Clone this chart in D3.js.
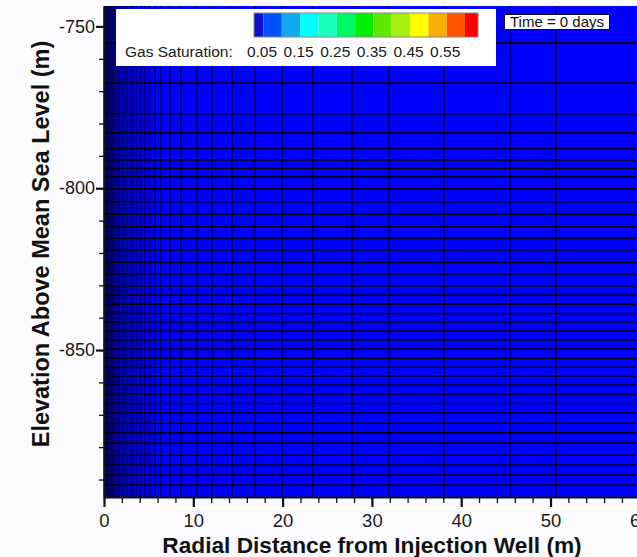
<!DOCTYPE html>
<html>
<head>
<meta charset="utf-8">
<script src="https://cdn.jsdelivr.net/npm/d3@7/dist/d3.min.js"></script>
<style>
  body { margin: 0; background: #fcfcfe; }
  text { font-family: "Liberation Sans", Arial, sans-serif; }
</style>
</head>
<body>
<div id="wrapper"></div>
<script>
// grid cell edges (metres)
const radialEdges = [0, 0.05, 0.1, 0.15, 0.2, 0.25, 0.3, 0.35, 0.4, 0.5, 0.6, 0.7, 0.8, 0.9, 1.0, 1.15,
    1.42, 1.68, 1.98, 2.27, 2.61, 2.99, 3.28, 3.66, 4.11, 4.59, 5.07, 5.71, 6.38, 7.39, 8.62,
    10.41, 12.09, 14.33, 16.91, 19.93, 23.4, 27.8, 31.9, 38.1, 45.5, 50.6, 60];
const elevationEdges = [-743.7, -755.1, -767.5, -777.0, -782.9, -787.8, -791.3, -793.9, -796.5, -800.2,
    -804.2, -808.0, -811.9, -815.5, -819.1, -822.9, -826.5, -830.2, -833.0, -835.8, -838.7,
    -841.3, -844.1, -846.9, -849.7, -852.5, -855.3, -858.0, -860.8, -863.6, -866.5, -869.5,
    -872.6, -875.6, -878.7, -882.5, -885.5, -888.6, -891.7, -895.4];
const gasSaturation = 0; // every cell at t = 0
const cellColor = "#0000ff";

const xTicks = [0, 10, 20, 30, 40, 50, 60];
const xMinorTicks = d3.range(0, 61, 2);
const yTicks = [-850, -800, -750];
const yMinorTicks = d3.range(-890, -743, 10);

const levels = [0.05, 0.10, 0.15, 0.20, 0.25, 0.30, 0.35, 0.40, 0.45, 0.50, 0.55, 0.60];
const levelColors = ["#0a10d0", "#0050f8", "#12a8f0", "#00ffff", "#18ffc0", "#00f860", "#00ee00",
    "#60e800", "#a8f010", "#ffff00", "#f8b000", "#ff5500", "#ff0000"];
const levelLabels = ["0.05", "0.15", "0.25", "0.35", "0.45", "0.55"];
const timeText = "Time = 0 days";

const width = 637, height = 557;
const plot = { left: 104, top: 6, bottom: 497, right: 639.8 };

const svg = d3.select("#wrapper").append("svg")
    .attr("width", width)
    .attr("height", height)
    .style("display", "block");

const x = d3.scaleLinear().domain([0, 60]).range([plot.left, plot.right]);
const y = d3.scaleLinear().domain([-895.4, -743.7]).range([plot.bottom, plot.top]);

// cells
const cells = [];
for (let i = 0; i < radialEdges.length - 1; i++) {
    for (let j = 0; j < elevationEdges.length - 1; j++) {
        cells.push({ r0: radialEdges[i], r1: radialEdges[i + 1], z0: elevationEdges[j + 1], z1: elevationEdges[j], sg: gasSaturation });
    }
}
const fillFor = (sg) => sg < levels[0] ? cellColor : levelColors[d3.bisect(levels, sg)];

const grid = svg.append("g");
grid.selectAll("rect.cell")
    .data(cells)
    .join("rect")
    .attr("class", "cell")
    .attr("x", d => x(d.r0))
    .attr("y", d => y(d.z1))
    .attr("width", d => x(d.r1) - x(d.r0) + 0.5)
    .attr("height", d => y(d.z0) - y(d.z1) + 0.5)
    .attr("fill", d => fillFor(d.sg));

// mesh lines
grid.selectAll("line.vert")
    .data(radialEdges.slice(1, -1))
    .join("line")
    .attr("x1", d => x(d)).attr("x2", d => x(d))
    .attr("y1", plot.top).attr("y2", plot.bottom)
    .attr("stroke", "#00005c")
    .attr("stroke-opacity", 0.8)
    .attr("stroke-width", 2);

grid.selectAll("line.horiz")
    .data(elevationEdges.slice(1, -1))
    .join("line")
    .attr("x1", plot.left).attr("x2", plot.right)
    .attr("y1", d => y(d)).attr("y2", d => y(d))
    .attr("stroke", "#000018")
    .attr("stroke-width", 1.6);

// axes
const axisColor = "#111";
const plain = d => String(d);   // hyphen minus, as in the original

const xAxis = svg.append("g")
    .attr("transform", `translate(0,${plot.bottom})`)
    .call(d3.axisBottom(x).tickValues(xMinorTicks).tickSize(6).tickFormat("").tickSizeOuter(0));
xAxis.selectAll(".tick line").attr("stroke", axisColor).attr("stroke-width", 1.3);
xAxis.select(".domain").remove();

const xMajor = svg.append("g")
    .attr("transform", `translate(0,${plot.bottom})`)
    .call(d3.axisBottom(x).tickValues(xTicks).tickSize(10).tickPadding(7).tickSizeOuter(0).tickFormat(plain));
xMajor.select(".domain").attr("stroke", axisColor).attr("stroke-width", 2.2);
xMajor.selectAll(".tick line").attr("stroke", axisColor).attr("stroke-width", 2.2);
xMajor.selectAll("text").attr("font-size", "18.5px").attr("fill", "#1a1a1a");

const yAxis = svg.append("g")
    .attr("transform", `translate(${plot.left},0)`)
    .call(d3.axisLeft(y).tickValues(yMinorTicks).tickSize(5).tickFormat("").tickSizeOuter(0));
yAxis.selectAll(".tick line").attr("stroke", axisColor).attr("stroke-width", 1.3);
yAxis.select(".domain").remove();

const yMajor = svg.append("g")
    .attr("transform", `translate(${plot.left},0)`)
    .call(d3.axisLeft(y).tickValues(yTicks).tickSize(8).tickPadding(1).tickSizeOuter(0).tickFormat(plain));
yMajor.select(".domain").attr("stroke", axisColor).attr("stroke-width", 2.2);
yMajor.selectAll(".tick line").attr("stroke", axisColor).attr("stroke-width", 2.2);
yMajor.selectAll("text").attr("font-size", "18px").attr("fill", "#1a1a1a");

// axis titles
svg.append("text")
    .attr("x", 372).attr("y", 553)
    .attr("text-anchor", "middle")
    .attr("font-size", "22.7px").attr("font-weight", "bold").attr("fill", "#111")
    .text("Radial Distance from Injection Well (m)");

svg.append("text")
    .attr("transform", "translate(49,244) rotate(-90)")
    .attr("text-anchor", "middle")
    .attr("font-size", "23.5px").attr("font-weight", "bold").attr("fill", "#111")
    .text("Elevation Above Mean Sea Level (m)");

// legend
const legend = svg.append("g");
legend.append("rect")
    .attr("x", 116).attr("y", 9).attr("width", 380).attr("height", 57)
    .attr("fill", "#fff");

const bar = { left: 254, right: 478, top: 13, bottom: 37 };
const cs = d3.scaleLinear().domain([0.05, 0.60]).range([263.5, 465]);
const bands = levelColors.map((c, i) => ({
    x0: i === 0 ? bar.left : cs(levels[i - 1]),
    x1: i === levels.length ? bar.right : cs(levels[i]),
    color: c
}));
legend.selectAll("rect.band")
    .data(bands)
    .join("rect")
    .attr("class", "band")
    .attr("x", d => d.x0).attr("y", bar.top)
    .attr("width", d => d.x1 - d.x0).attr("height", bar.bottom - bar.top)
    .attr("fill", d => d.color);
legend.append("rect")
    .attr("x", bar.left).attr("y", bar.top)
    .attr("width", bar.right - bar.left).attr("height", bar.bottom - bar.top)
    .attr("fill", "none").attr("stroke", "#888").attr("stroke-width", 1);

legend.append("text")
    .attr("x", 125).attr("y", 57)
    .attr("font-size", "15.5px").attr("fill", "#1a1a1a")
    .text("Gas Saturation:");
legend.selectAll("text.lvl")
    .data(levelLabels)
    .join("text")
    .attr("class", "lvl")
    .attr("x", d => cs(+d) - 1.5).attr("y", 57)
    .attr("text-anchor", "middle")
    .attr("font-size", "15.5px").attr("fill", "#1a1a1a")
    .text(d => d);

// time stamp
svg.append("rect")
    .attr("x", 504.5).attr("y", 14.5).attr("width", 105).attr("height", 15)
    .attr("fill", "#fff").attr("stroke", "#111").attr("stroke-width", 1);
svg.append("text")
    .attr("x", 557).attr("y", 27)
    .attr("text-anchor", "middle")
    .attr("font-size", "15px").attr("fill", "#111")
    .text(timeText);
</script>
</body>
</html>
